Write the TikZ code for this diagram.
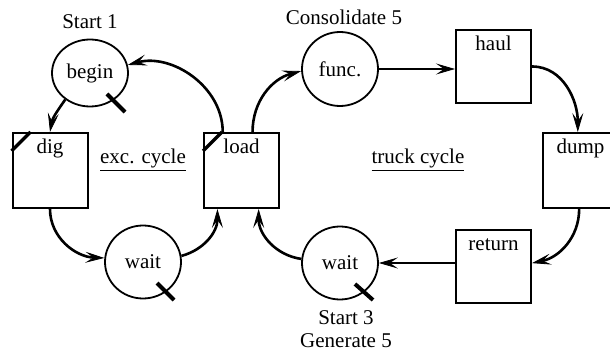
\documentclass[tikz,border=0pt]{standalone}
\usepackage{fontspec}
\setmainfont{Liberation Serif}
\usetikzlibrary{shapes.geometric, arrows.meta, calc}

\begin{document}
\begin{tikzpicture}[x=1pt, y=1pt,
  every node/.style={font=\fontsize{21}{23}\selectfont},
  station/.style={draw, ellipse, line width=1.8pt, minimum width=76pt,
    minimum height=73pt, inner sep=0pt},
  actbox/.style={draw, rectangle, line width=2pt, minimum width=75pt,
    minimum height=75pt, inner sep=0pt},
  boxtitle/.style={label={[anchor=north, inner sep=0pt, text height=14pt,
    text depth=4pt, yshift=-7pt]north:#1}},
  arr/.style={line width=2.6pt, -{Stealth[length=19pt, width=11pt, inset=8pt, line width=0.8pt]}},
  tickmark/.style={line width=4pt},
  caption/.style={anchor=base, inner sep=0pt},
]
\useasboundingbox (0,0) rectangle (610,351);

% excavator cycle
\node[station, minimum height=67pt] (begin) at (90,278) {begin};
\node[actbox, boxtitle=dig] (dig) at (50,180.5) {};
\node[station] (wait1) at (143,89) {wait};
\node[actbox, boxtitle=load] (load) at (241.5,180.5) {};

% truck cycle
\node[station, minimum height=74pt] (func) at (340,282) {func.};
\node[actbox, minimum height=73pt, boxtitle=haul] (haul) at (493.5,284.5) {};
\node[actbox, boxtitle=dump] (dump) at (580.5,180.5) {};
\node[actbox, minimum height=73pt, boxtitle=return] (ret) at (493.5,84.5) {};
\node[station] (wait2) at (340,88) {wait};

% annotations
\node[caption] (s1) at (90,322) {Start 1};
\node[caption] (cons) at (344,326) {Consolidate 5};
\node[caption] (s3) at (346,27) {Start 3};
\node[caption] (gen) at (346,4) {Generate 5};
\node[caption] (exc) at (143,187) {\underline{exc. cycle}};
\node[caption] (truck) at (418,187) {\underline{truck cycle}};

% tick marks on the queues
\draw[tickmark] ($(begin.center)+(17,-21)$) -- ++(18,-18);
\draw[tickmark] ($(wait1.center)+(14,-21)$) -- ++(17,-17);
\draw[tickmark] ($(wait2.center)+(15,-21)$) -- ++(18,-16);

% corner marks on the combi activities
\draw[tickmark, line width=3.4pt] ($(dig.north west)+(0,-19)$) -- ($(dig.north west)+(19,0)$);
\draw[tickmark, line width=3.4pt] ($(load.north west)+(0,-19)$) -- ($(load.north west)+(19,0)$);

% excavator flow
\draw[arr] (load.116) to[out=90, in=15] (begin.12);
\draw[arr] (begin.227) to[out=235, in=80] (dig.north);
\draw[arr] (dig.south) to[out=-90, in=178] (wait1.174);
\draw[arr] (wait1.9) to[out=15, in=-90] (load.238);

% truck flow
\draw[arr] (load.74) to[out=90, in=195] (func.183);
\draw[arr] (func.east) -- (func.east -| haul.west);
\draw[arr] (haul.east) to[out=0, in=90] (dump.94);
\draw[arr] (dump.268) to[out=-90, in=12] (ret.5);
\draw[arr] (wait2.east -| ret.west) -- (wait2.east);
\draw[arr] (wait2.174) to[out=172, in=-90] (load.294);
\end{tikzpicture}
\end{document}
